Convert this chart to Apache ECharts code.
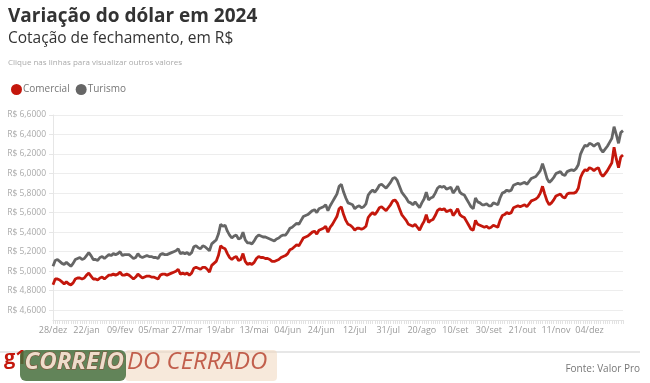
<!DOCTYPE html>
<html>
<head>
<meta charset="utf-8">
<script src="https://cdn.jsdelivr.net/npm/echarts@6/dist/echarts.min.js"></script>
<style>
html,body{margin:0;padding:0;background:#fff;}
#c{width:650px;height:383px;}
</style>
</head>
<body>
<div id="c"></div>
<script>
const tickLabels = ['28/dez','22/jan','09/fev','05/mar','27/mar','19/abr','13/mai','04/jun','24/jun','12/jul','31/jul','20/ago','10/set','30/set','21/out','11/nov','04/dez'];
const labelStep = 15;

const comercial = [
4.86,4.92,4.92,4.91,4.89,4.87,4.89,4.87,4.86,4.88,4.92,4.93,4.93,4.92,4.93,4.96,4.98,4.95,4.92,4.92,
4.91,4.93,4.94,4.92,4.94,4.96,4.96,4.97,4.96,4.97,4.99,4.96,4.96,4.97,4.96,4.94,4.92,4.94,4.97,4.95,
4.93,4.94,4.95,4.95,4.94,4.94,4.93,4.92,4.96,4.97,4.97,4.96,4.97,4.98,4.99,5.00,5.02,4.97,4.98,4.97,
4.98,4.96,4.98,5.03,5.04,5.03,5.02,5.04,5.04,5.02,4.99,5.06,5.08,5.10,5.16,5.26,5.24,5.23,5.18,5.14,
5.12,5.14,5.15,5.11,5.12,5.18,5.10,5.07,5.08,5.07,5.09,5.13,5.15,5.14,5.14,5.13,5.13,5.12,5.10,5.10,
5.11,5.12,5.14,5.15,5.16,5.18,5.22,5.23,5.25,5.27,5.26,5.30,5.34,5.35,5.36,5.38,5.40,5.41,5.38,5.42,
5.43,5.44,5.46,5.40,5.45,5.48,5.52,5.56,5.64,5.66,5.58,5.52,5.48,5.47,5.45,5.42,5.44,5.44,5.43,5.44,
5.46,5.55,5.58,5.60,5.58,5.61,5.65,5.66,5.64,5.62,5.65,5.68,5.72,5.73,5.70,5.64,5.58,5.55,5.52,5.48,
5.47,5.46,5.48,5.45,5.42,5.47,5.51,5.58,5.50,5.52,5.53,5.57,5.62,5.64,5.63,5.64,5.61,5.62,5.63,5.57,
5.60,5.64,5.58,5.56,5.55,5.51,5.47,5.43,5.42,5.52,5.48,5.47,5.46,5.45,5.46,5.44,5.45,5.47,5.46,5.45,
5.52,5.57,5.58,5.60,5.59,5.60,5.65,5.66,5.67,5.66,5.67,5.68,5.66,5.69,5.72,5.73,5.74,5.76,5.80,5.87,
5.79,5.72,5.68,5.70,5.73,5.77,5.78,5.79,5.76,5.75,5.79,5.80,5.80,5.80,5.81,5.85,5.96,6.01,6.04,6.03,
6.06,6.05,6.03,6.05,6.06,6.00,5.97,6.00,6.03,6.07,6.11,6.27,6.15,6.06,6.17,6.19
];

const turismo = [
5.05,5.11,5.12,5.10,5.08,5.07,5.09,5.07,5.05,5.08,5.12,5.13,5.14,5.12,5.13,5.16,5.19,5.16,5.12,5.12,
5.11,5.14,5.15,5.13,5.15,5.17,5.16,5.18,5.17,5.18,5.20,5.16,5.17,5.17,5.17,5.15,5.13,5.14,5.18,5.15,
5.14,5.15,5.16,5.15,5.15,5.14,5.14,5.13,5.17,5.18,5.17,5.17,5.18,5.19,5.20,5.21,5.23,5.18,5.19,5.18,
5.19,5.17,5.19,5.25,5.26,5.24,5.23,5.26,5.25,5.23,5.21,5.28,5.30,5.32,5.38,5.48,5.46,5.47,5.41,5.37,
5.34,5.36,5.37,5.33,5.34,5.40,5.32,5.29,5.29,5.28,5.31,5.35,5.37,5.36,5.35,5.35,5.34,5.33,5.32,5.31,
5.33,5.34,5.36,5.37,5.37,5.40,5.44,5.45,5.47,5.49,5.48,5.52,5.56,5.57,5.58,5.60,5.62,5.63,5.60,5.64,
5.65,5.66,5.68,5.62,5.67,5.71,5.75,5.79,5.87,5.89,5.81,5.75,5.70,5.69,5.68,5.64,5.66,5.67,5.65,5.66,
5.69,5.78,5.81,5.83,5.81,5.84,5.88,5.89,5.87,5.85,5.88,5.91,5.95,5.96,5.93,5.87,5.81,5.78,5.75,5.71,
5.70,5.68,5.71,5.68,5.65,5.70,5.74,5.81,5.73,5.75,5.76,5.80,5.85,5.87,5.86,5.87,5.84,5.85,5.86,5.80,
5.83,5.87,5.81,5.79,5.78,5.74,5.70,5.66,5.64,5.75,5.71,5.70,5.68,5.68,5.69,5.67,5.67,5.70,5.69,5.68,
5.75,5.80,5.81,5.83,5.82,5.83,5.88,5.89,5.90,5.89,5.90,5.91,5.89,5.92,5.95,5.96,5.97,6.00,6.03,6.10,
6.03,5.95,5.91,5.93,5.96,6.00,6.01,6.02,5.99,5.98,6.02,6.03,6.04,6.03,6.05,6.09,6.20,6.25,6.29,6.28,
6.31,6.30,6.28,6.30,6.31,6.25,6.22,6.25,6.28,6.32,6.36,6.48,6.40,6.31,6.42,6.44
];

const yTicks = [4.6,4.8,5.0,5.2,5.4,5.6,5.8,6.0,6.2,6.4,6.6];

const categories = comercial.map((_, i) => i);

const chart = echarts.init(document.getElementById('c'), null, {renderer: 'canvas'});
const FONT = '"Open Sans", "Noto Sans", sans-serif';

chart.setOption({
  animation: false,
  backgroundColor: '#fff',
  textStyle: {fontFamily: FONT},
  grid: {left: 53, right: 27, top: 115, bottom: 63, containLabel: false},
  legend: {
    left: 6, top: 79,
    icon: 'circle', itemWidth: 11, itemHeight: 11, itemGap: 6,
    textStyle: {fontSize: 10, color: '#777', fontFamily: FONT, padding: [0,0,0,-4]},
    data: ['Comercial', 'Turismo']
  },
  xAxis: {
    type: 'category',
    data: categories,
    boundaryGap: false,
    axisLine: {show: true, lineStyle: {color: '#e2e2e2'}},
    axisTick: {show: true, interval: 0, length: 4, lineStyle: {color: '#e2e2e2'}},
    axisLabel: {
      interval: labelStep - 1,
      margin: 6,
      fontSize: 9,
      color: '#9a9a9a',
      fontFamily: FONT,
      formatter: (v, i) => tickLabels[i / labelStep] || ''
    },
    splitLine: {show: false}
  },
  yAxis: {
    type: 'value',
    min: 4.5,
    max: 6.6,
    axisLine: {show: true, lineStyle: {color: '#e6e6e6'}},
    axisTick: {show: true, length: 4, lineStyle: {color: '#e6e6e6'}, customValues: yTicks},
    axisLabel: {
      customValues: yTicks,
      fontSize: 8.5,
      color: '#aaaaaa',
      margin: 7,
      fontFamily: FONT,
      formatter: v => 'R$ ' + v.toFixed(4).replace('.', ',')
    },
    splitLine: {show: true, lineStyle: {color: '#ededed'}}
  },
  series: [
    {name: 'Comercial', type: 'line', data: comercial, symbol: 'none', color: '#c4170c',
     lineStyle: {width: 2.8, color: '#c4170c'}, z: 3},
    {name: 'Turismo', type: 'line', data: turismo, symbol: 'none', color: '#666666',
     lineStyle: {width: 2.8, color: '#666666'}, z: 2}
  ],
  graphic: [
    {type: 'text', left: 8, top: 7, style: {text: 'Variação do dólar em 2024', font: 'bold 19px ' + FONT, fill: '#333'}},
    {type: 'text', left: 8, top: 31, style: {text: 'Cotação de fechamento, em R$', font: '15.5px ' + FONT, fill: '#333'}},
    {type: 'text', left: 8, top: 59, style: {text: 'Clique nas linhas para visualizar outros valores', font: '8px ' + FONT, fill: '#aaa'}},
    {type: 'line', shape: {x1: 0, y1: 352, x2: 640, y2: 352}, style: {stroke: '#cfcfcf', lineWidth: 1}},
    {type: 'text', left: 4, top: 348, style: {text: 'g1', font: 'bold 20px ' + FONT, fill: '#c4170c'}},
    {type: 'rect', shape: {x: 125, y: 350, width: 152, height: 31, r: 4}, style: {fill: 'rgba(240,215,190,0.55)'}},
    {type: 'rect', shape: {x: 20, y: 350, width: 106, height: 31, r: 6}, style: {fill: 'rgba(70,110,60,0.85)'}},
    {type: 'text', left: 24, top: 350, style: {text: 'CORREIO', font: 'italic bold 24px "Liberation Sans Narrow", ' + FONT, fill: 'rgba(245,225,210,0.95)', stroke: 'rgba(150,40,30,0.6)', lineWidth: 1}},
    {type: 'text', left: 127, top: 350, style: {text: 'DO CERRADO', font: 'italic 24px "Liberation Sans Narrow", ' + FONT, fill: 'rgba(180,60,40,0.8)'}},
    {type: 'text', right: 10, top: 364, style: {text: 'Fonte: Valor Pro', font: '10px ' + FONT, fill: '#777'}}
  ]
});
</script>
</body>
</html>
